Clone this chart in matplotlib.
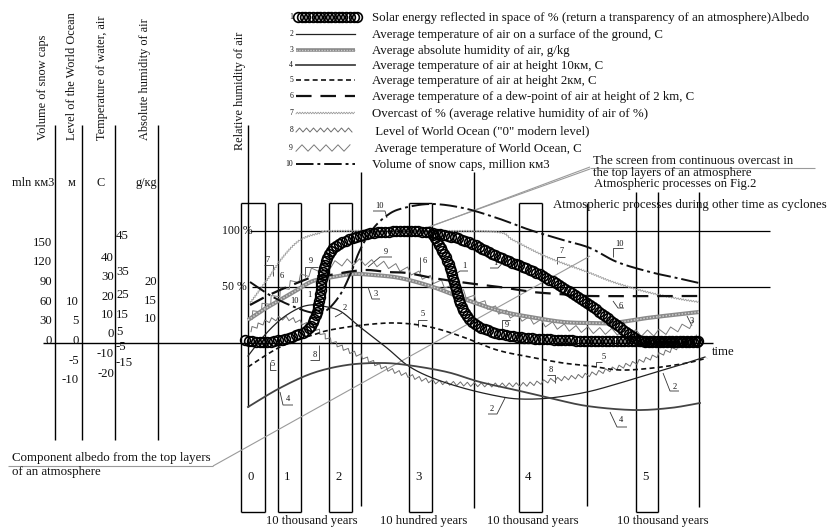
import numpy as np
import matplotlib
matplotlib.use('Agg')
import matplotlib.pyplot as plt

SERIF = ['Liberation Serif', 'DejaVu Serif']
W, H = 830, 529

# ---------------- data (diagram coordinates, x = time position, y = level) -------------
# 1 Albedo (chain) - rising part + upper branch, and lower branch
c1a_x = [245, 263, 280, 297, 310, 318, 323, 330, 347, 373, 407, 433, 463, 497, 530, 550, 583, 610, 633, 647, 700]
c1a_y = [340, 342, 340, 335, 327, 307, 273, 252, 240, 233, 231, 233, 240, 256, 270, 280, 300, 320, 337, 342, 342]
c1b_x = [433, 447, 455, 460, 470, 487, 517, 563, 600, 700]
c1b_y = [235, 260, 287, 303, 320, 330, 337, 340, 341, 341]
# 2 Avg temperature of air on surface
c2_x = [248, 263, 280, 297, 310, 322, 340, 360, 387, 407, 430, 463, 497, 520, 550, 587, 620, 653, 680, 705]
c2_y = [356, 337, 320, 309, 305, 306, 311, 327, 348, 365, 377, 388, 396, 399, 398, 392, 383, 373, 365, 357]
# 3 Avg absolute humidity
c3_x = [248, 263, 280, 297, 313, 333, 353, 373, 400, 433, 467, 500, 530, 563, 590, 613, 647, 699]
c3_y = [320, 310, 300, 290, 281, 277, 274, 275, 278, 287, 300, 311, 317, 322, 323, 323, 318, 312]
# 4 Avg temperature at 10 km
c4_x = [248, 280, 313, 347, 380, 407, 447, 480, 520, 550, 587, 633, 670, 700]
c4_y = [407, 388, 373, 365, 363, 365, 372, 382, 391, 398, 406, 410, 408, 403]
# 5 Avg temperature at 2 km
c5_x = [248, 263, 280, 297, 313, 330, 363, 397, 430, 463, 497, 530, 563, 590, 620, 653, 687, 707]
c5_y = [367, 357, 347, 340, 335, 330, 325, 323, 327, 337, 350, 357, 363, 366, 370, 368, 363, 358]
# 6 Dew point at 2 km
c6_x = [250, 263, 280, 297, 313, 330, 347, 367, 387, 407, 433, 467, 500, 533, 560, 587, 700]
c6_y = [305, 298, 290, 283, 277, 275, 272, 270, 272, 273, 278, 283, 287, 292, 294, 296, 296]
# 7 Overcast
c7_x = [250, 267, 283, 300, 320, 333, 433, 497, 513, 547, 590, 613, 647, 680, 699]
c7_y = [303, 280, 257, 240, 233, 231, 231, 232, 240, 257, 273, 282, 292, 299, 302]
# 8 Level of World Ocean
c8_x = [250, 265, 283, 300, 317, 330, 347, 363, 380, 397, 430, 463, 497, 530, 553, 587, 620, 653, 687, 700]
c8_y = [330, 322, 318, 322, 330, 340, 350, 357, 366, 372, 381, 384, 385, 384, 380, 375, 367, 357, 343, 335]
# 9 Avg temperature of World Ocean
c9_x = [250, 265, 283, 300, 315, 330, 350, 373, 400, 433, 463, 497, 530, 563, 590, 620, 653, 680, 699]
c9_y = [317, 305, 290, 278, 270, 265, 262, 263, 268, 280, 293, 310, 320, 327, 330, 332, 333, 328, 322]
# 10 Volume of snow caps
c10_x = [250, 273, 297, 315, 327, 340, 350, 360, 372, 385, 400, 430, 463, 497, 530, 563, 590, 617, 650, 677, 699]
c10_y = [282, 297, 308, 313, 310, 295, 275, 250, 230, 217, 209, 204, 208, 218, 230, 240, 248, 262, 272, 278, 283]

legend_texts = [
    "Solar energy reflected in space of % (return a transparency of an atmosphere)Albedo",
    "Average temperature of air on a surface of the ground, C",
    "Average absolute humidity of air, g/kg",
    "Average temperature of air at height 10км, C",
    "Average temperature of air at height 2км, C",
    "Average temperature of a dew-point of air at height of 2 km, C",
    "Overcast of % (average relative humidity of air of %)",
    " Level of World Ocean (\"0\" modern level)",
    " Average temperature of World Ocean, C",
    "Volume of snow caps, million км3",
]
legend_rows = [17, 34, 50, 65, 80, 96, 113, 130, 148, 164]

axis_titles = ["Volume of snow caps", "Level of the World Ocean", "Temperature of water, air",
               "Absolute humidity of air", "Relative humidity of air"]
axis_units = ["mln км3", "м", "C", "g/кg"]

snow_ticks = ["150", "120", "90", "60", "30", "0"]
snow_tick_y = [243, 262, 282, 302, 321, 341]
ocean_ticks = ["10", "5", "0", "-5", "-10"]
ocean_tick_y = [302, 321, 341, 361, 380]
temp_l_ticks = ["40", "30", "20", "10", "0", "-10", "-20"]
temp_l_y = [258, 277, 297, 315, 334, 354, 374]
temp_r_ticks = ["45", "35", "25", "15", "5", "-5", "-15"]
temp_r_y = [236, 272, 295, 315, 332, 347, 363]
hum_ticks = ["20", "15", "10"]
hum_tick_y = [282, 301, 319]

period_labels = ["0", "1", "2", "3", "4", "5"]
period_left = [241, 278, 329, 409, 519, 636]
period_right = [265, 301, 352, 432, 542, 658]
duration_labels = ["10 thousand years", "10 hundred years", "10 thousand years", "10 thousand years"]
duration_x = [312, 424, 533, 663]

# ---------------- helpers ----------------
def smooth(xs, ys, n=16):
    pts = np.column_stack([xs, ys]).astype(float)
    P = np.vstack([pts[0], pts, pts[-1]])
    out = []
    for i in range(1, len(P) - 2):
        p0, p1, p2, p3 = P[i - 1], P[i], P[i + 1], P[i + 2]
        t = np.linspace(0, 1, n, endpoint=False)[:, None]
        seg = 0.5 * ((2 * p1) + (-p0 + p2) * t + (2 * p0 - 5 * p1 + 4 * p2 - p3) * t ** 2
                     + (-p0 + 3 * p1 - 3 * p2 + p3) * t ** 3)
        out.append(seg)
    out.append(pts[-1][None])
    return np.vstack(out)

def resample(path, step):
    d = np.r_[0, np.cumsum(np.hypot(*np.diff(path, axis=0).T))]
    s = np.arange(0, d[-1] + 1e-9, step)
    return np.column_stack([np.interp(s, d, path[:, 0]), np.interp(s, d, path[:, 1])])

def zigzag(path, period, amp):
    p = resample(path, period / 2.0)
    tang = np.gradient(p, axis=0)
    nrm = np.column_stack([-tang[:, 1], tang[:, 0]])
    nrm /= (np.linalg.norm(nrm, axis=1)[:, None] + 1e-9)
    sign = np.where(np.arange(len(p)) % 2 == 0, 1.0, -1.0)
    return p + nrm * amp * sign[:, None]

fig = plt.figure(figsize=(8.3, 5.29), dpi=100)
ax = fig.add_axes([0, 0, 1, 1])
ax.set_xlim(0, W)
ax.set_ylim(H, 0)
ax.axis('off')

def T(x, y, s, size=8.8, **kw):
    kw.setdefault('va', 'center')
    kw.setdefault('ha', 'left')
    ax.text(x, y, s, fontsize=size, family=SERIF, color='#111111', **kw)

def L(pts, **kw):
    a = np.array(pts, float)
    kw.setdefault('color', 'k')
    kw.setdefault('lw', 0.8)
    ax.plot(a[:, 0], a[:, 1], solid_capstyle='butt', **kw)

# styles
def draw_chain(path, ms=7.0):
    p = resample(path, 3.7)
    ax.plot(p[:, 0], p[:, 1], ls='none', marker='o', ms=ms, mfc='none', mec='k', mew=1.2, zorder=5)

def draw_hatched(path, lw=3.0):
    ax.plot(path[:, 0], path[:, 1], color='#8a8a8a', lw=lw, solid_capstyle='butt', zorder=3)
    ax.plot(path[:, 0], path[:, 1], color='#d0d0d0', lw=lw * 0.35, ls=(0, (1, 1.2)), zorder=3)

def draw_style(k, path):
    if k == 1:
        draw_chain(path)
    elif k == 2:
        ax.plot(path[:, 0], path[:, 1], color='#222222', lw=0.9, zorder=4)
    elif k == 3:
        draw_hatched(path)
    elif k == 4:
        ax.plot(path[:, 0], path[:, 1], color='#444444', lw=1.3, zorder=4)
    elif k == 5:
        ax.plot(path[:, 0], path[:, 1], color='#111111', lw=1.2, ls=(0, (3, 2)), zorder=4)
    elif k == 6:
        ax.plot(path[:, 0], path[:, 1], color='#111111', lw=1.6, ls=(0, (7, 4)), zorder=4)
    elif k == 7:
        z = zigzag(path, 2.6, 0.8)
        ax.plot(z[:, 0], z[:, 1], color='#9a9a9a', lw=0.6, zorder=3)
    elif k == 8:
        z = zigzag(path, 7, 2.0)
        ax.plot(z[:, 0], z[:, 1], color='#6e6e6e', lw=0.7, zorder=3)
    elif k == 9:
        z = zigzag(path, 12, 3.2)
        ax.plot(z[:, 0], z[:, 1], color='#7a7a7a', lw=0.7, zorder=3)
    elif k == 10:
        ax.plot(path[:, 0], path[:, 1], color='#111111', lw=1.4, ls=(0, (9, 2, 1.5, 2)), zorder=4)

# ---------------- legend ----------------
for i, (txt, y) in enumerate(zip(legend_texts, legend_rows)):
    k = i + 1
    T(293, y, str(k), size=5.5, ha='right')
    x0, x1 = (298, 360) if k == 1 else (296, 355)
    seg = np.column_stack([np.linspace(x0, x1, 40), np.full(40, y)])
    if k == 3:
        draw_hatched(seg, lw=2.6)
    else:
        draw_style(k, seg)
    T(372, y + 1, txt, size=9.3)

# ---------------- left scales ----------------
title_x = [43, 72, 102, 145, 240]
title_bottom = [140, 140, 140, 140, 150]
for x, yb, s in zip(title_x, title_bottom, axis_titles):
    ax.text(x, yb, s, rotation=90, rotation_mode='anchor', ha='left', va='center',
            fontsize=8.8, family=SERIF, color='#111111')
for x, l in zip([55, 82, 115, 158], [(125, 440)] * 4):
    L([(x, l[0]), (x, l[1])], lw=1.0)
L([(248, 125), (248, 407)], lw=1.0)

T(54, 183, axis_units[0], size=8.8, ha='right')
T(72, 183, axis_units[1], size=8.8, ha='center')
T(101, 183, axis_units[2], size=8.8, ha='center')
T(157, 183, axis_units[3], size=8.8, ha='right')

for s, y in zip(snow_ticks, snow_tick_y):
    T(52, y, s, size=9.2, ha='right')
for s, y in zip(ocean_ticks, ocean_tick_y):
    T(79, y, s, size=9.2, ha='right')
for s, y in zip(temp_l_ticks, temp_l_y):
    T(114, y, s, size=9.2, ha='right')
for s, y in zip(temp_r_ticks, temp_r_y):
    T(116, y, s, size=9.2, ha='left')
for s, y in zip(hum_ticks, hum_tick_y):
    T(157, y, s, size=9.2, ha='right')

# time axis
L([(43, 343), (713, 343)], lw=1.0)
T(712, 352, "time", size=9.2)

# percent lines
T(222, 231, "100 %", size=8.5)
T(222, 287, "50 %", size=8.5)
L([(250, 231), (770, 231)], lw=0.9)
L([(252, 287), (770, 287)], lw=0.9)

# ---------------- period boxes & vertical lines ----------------
for lab, xl, xr in zip(period_labels, period_left, period_right):
    top = 192 if lab == "5" else 203
    L([(xl, 512), (xl, top)], lw=1.0)
    L([(xr, 512), (xr, top)], lw=1.0)
    L([(xl, 512), (xr, 512)], lw=1.0)
    if lab != "5":
        L([(xl, top), (xr, top)], lw=1.0)
    T(xl + 6, 477, lab, size=9.2)
for x, y0, y1 in [(361, 172, 506), (474, 172, 508), (587, 203, 506), (699, 192, 507)]:
    L([(x, y0), (x, y1)], lw=1.0)
for s, x in zip(duration_labels, duration_x):
    T(x, 521, s, size=9.1, ha='center')

# ---------------- gray annotation lines ----------------
G = dict(color='#9a9a9a', lw=0.8)
L([(590, 168), (815, 168)], **G)
L([(590, 167), (432, 226)], **G)
L([(590, 169), (409, 234)], **G)
L([(8, 466), (213, 466)], **G)
L([(213, 466), (590, 256)], **G)

T(593, 161, "The screen from continuous overcast in", size=9.1)
T(593, 173, "the top layers of an atmosphere", size=9.1)
T(594, 184, "Atmospheric processes on Fig.2", size=9.1)
T(553, 205, "Atmospheric processes during other time as cyclones", size=9.3)
T(12, 458, "Component albedo from the top layers", size=9.3)
T(12, 472, "of an atmosphere", size=9.3)

# ---------------- curves ----------------
curves = [
    (10, c10_x, c10_y), (7, c7_x, c7_y), (8, c8_x, c8_y), (9, c9_x, c9_y),
    (3, c3_x, c3_y), (6, c6_x, c6_y), (5, c5_x, c5_y), (2, c2_x, c2_y), (4, c4_x, c4_y),
]
for k, xs, ys in curves:
    draw_style(k, smooth(xs, ys))
draw_chain(smooth(c1a_x, c1a_y))
draw_chain(smooth(c1b_x, c1b_y))

# ---------------- curve number labels ----------------
labels = [
    ("7", 268, 260, [(264, 265), (273, 265), (273, 276)]),
    ("6", 282, 276, []),
    ("9", 311, 261, [(305, 277), (305, 267), (318, 267)]),
    ("10", 294, 301, []),
    ("1", 309, 295, []),
    ("2", 345, 308, [(342, 313), (335, 317)]),
    ("10", 379, 206, [(373, 211), (385, 211), (387, 218)]),
    ("9", 386, 252, [(392, 257), (380, 257), (368, 267)]),
    ("3", 376, 294, [(380, 299), (372, 299), (368, 287)]),
    ("6", 425, 261, [(420, 257), (420, 272)]),
    ("1", 464, 266, [(468, 271), (460, 271), (453, 276)]),
    ("5", 423, 314, [(427, 320), (418, 320), (418, 327)]),
    ("8", 315, 355, [(310, 360), (319, 360), (319, 345)]),
    ("1", 495, 263, [(490, 268), (498, 268), (505, 260)]),
    ("7", 562, 251, [(565, 257), (557, 257), (557, 264)]),
    ("10", 619, 244, [(623, 248), (613, 248), (613, 257)]),
    ("6", 621, 306, [(613, 301), (618, 308), (624, 308)]),
    ("3", 692, 321, [(687, 316), (692, 326)]),
    ("9", 507, 325, [(510, 320), (502, 320), (502, 331), (510, 331)]),
    ("8", 551, 370, [(547, 375), (555, 375), (555, 383)]),
    ("5", 604, 357, [(602, 362), (596, 362), (596, 367)]),
    ("2", 675, 387, [(663, 373), (670, 391), (679, 391)]),
    ("4", 621, 420, [(610, 412), (617, 427), (627, 427)]),
    ("2", 492, 409, [(505, 398), (497, 414), (488, 414)]),
    ("4", 288, 399, [(280, 392), (283, 405), (293, 405)]),
    ("5", 273, 364, [(270, 362), (270, 370), (276, 370)]),
]
for s, x, y, pts in labels:
    T(x, y, s, size=6, ha='center')
    if pts:
        L(pts, color='#333333', lw=0.6)

fig.savefig('out.png', dpi=100)
